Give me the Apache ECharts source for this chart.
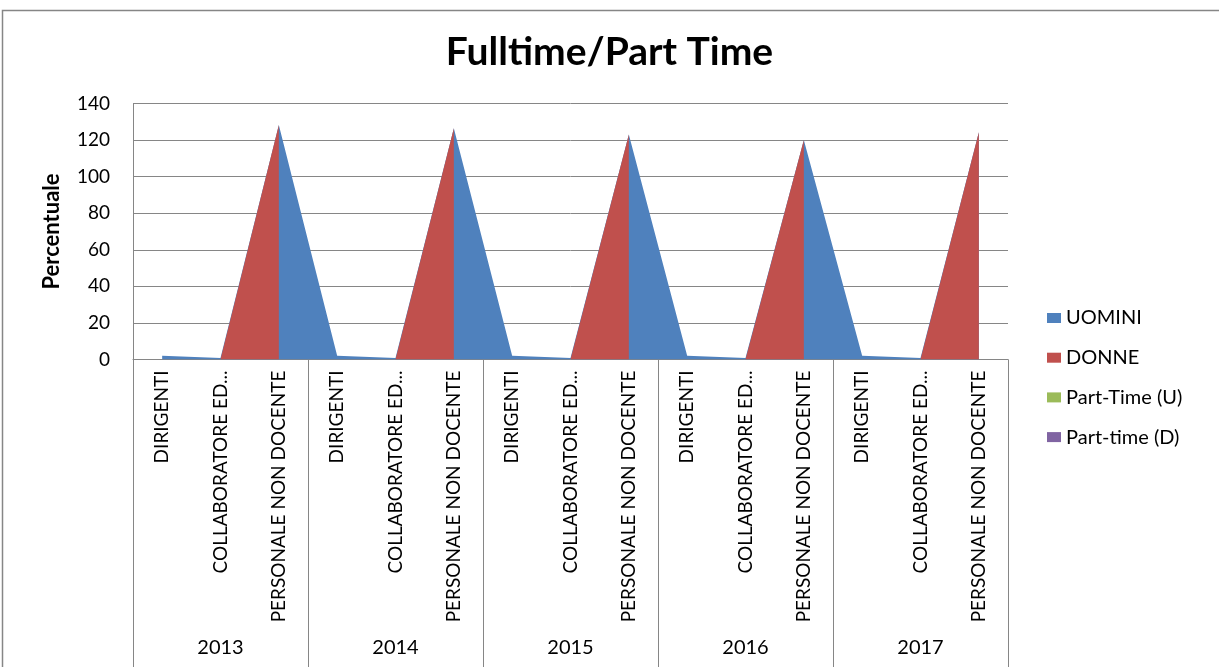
<!DOCTYPE html>
<html>
<head>
<meta charset="utf-8">
<script src="https://cdn.jsdelivr.net/npm/echarts@6/dist/echarts.min.js"></script>
<style>
html,body{margin:0;padding:0;background:#fff;}
#chart{width:1219px;height:667px;}
</style>
</head>
<body>
<div id="chart"></div>
<script>
// ---- data ----
var years = ['2013', '2014', '2015', '2016', '2017'];
var roles = ['DIRIGENTI', 'COLLABORATORE ED...', 'PERSONALE NON DOCENTE'];
var categories = [
  'DIRIGENTI', 'COLLABORATORE ED...', 'PERSONALE NON DOCENTE',
  'DIRIGENTI', 'COLLABORATORE ED...', 'PERSONALE NON DOCENTE',
  'DIRIGENTI', 'COLLABORATORE ED...', 'PERSONALE NON DOCENTE',
  'DIRIGENTI', 'COLLABORATORE ED...', 'PERSONALE NON DOCENTE',
  'DIRIGENTI', 'COLLABORATORE ED...', 'PERSONALE NON DOCENTE'
];
var uomini = [2, 0.8, 128.3, 2, 0.8, 126.5, 2, 0.8, 123, 2, 0.8, 120.1, 2, 0.8, 124.3];
var donne = [null, 0, 128.3, null, 0, 126.5, null, 0, 123, null, 0, 120.1, null, 0, 124.3];
var partTimeU = [0, 0, 0, 0, 0, 0, 0, 0, 0, 0, 0, 0, 0, 0, 0];
var partTimeD = [0, 0, 0, 0, 0, 0, 0, 0, 0, 0, 0, 0, 0, 0, 0];
var yTicks = [0, 20, 40, 60, 80, 100, 120, 140];

var FONT = 'Lato';
var GRAY = '#868686';

function areaSeries(name, data, color) {
  return {
    name: name,
    type: 'line',
    data: data,
    xAxisIndex: 0,
    yAxisIndex: 0,
    showSymbol: false,
    symbol: 'none',
    connectNulls: false,
    lineStyle: { width: 0, color: color },
    itemStyle: { color: color },
    areaStyle: { color: color, opacity: 1 },
    emphasis: { disabled: true }
  };
}

var chart = echarts.init(document.getElementById('chart'), null, { renderer: 'canvas' });
chart.setOption({
  animation: false,
  backgroundColor: '#ffffff',
  textStyle: { fontFamily: FONT },
  graphic: [{
    type: 'rect',
    shape: { x: 2.5, y: 10.5, width: 1400, height: 900 },
    style: { fill: 'none', stroke: GRAY, lineWidth: 1.5 },
    silent: true
  }],
  title: {
    text: 'Fulltime/Part Time',
    left: 'center',
    top: 28,
    textStyle: { fontFamily: FONT, fontWeight: 'bold', fontSize: 39, color: '#000' }
  },
  legend: {
    orient: 'vertical',
    left: 1047,
    top: 307,
    padding: 0,
    itemWidth: 14,
    itemHeight: 10,
    itemGap: 17.7,
    icon: 'rect',
    textStyle: { fontFamily: FONT, fontSize: 20, color: '#000', lineHeight: 22 },
    data: ['UOMINI', 'DONNE', 'Part-Time (U)', 'Part-time (D)']
  },
  grid: { left: 133, right: 211, top: 103.5, bottom: 307.5, containLabel: false },
  xAxis: [{
    type: 'category',
    data: categories,
    boundaryGap: true,
    position: 'bottom',
    axisLine: { show: true, lineStyle: { color: GRAY, width: 1 } },
    axisTick: { show: false },
    axisLabel: {
      interval: 0,
      rotate: 90,
      margin: 11,
      fontFamily: FONT,
      fontSize: 19,
      color: '#000'
    },
    splitLine: { show: false }
  }, {
    type: 'category',
    data: years,
    boundaryGap: true,
    position: 'bottom',
    offset: 0,
    axisLine: { show: false },
    axisTick: { show: true, length: 310, lineStyle: { color: GRAY, width: 1 } },
    axisLabel: {
      interval: 0,
      margin: 278,
      fontFamily: FONT,
      fontSize: 20,
      color: '#000'
    },
    splitLine: { show: false }
  }],
  yAxis: {
    type: 'value',
    min: yTicks[0],
    max: yTicks[yTicks.length - 1],
    interval: 20,
    name: 'Percentuale',
    nameLocation: 'middle',
    nameGap: 70,
    nameRotate: 90,
    nameTextStyle: { fontFamily: FONT, fontWeight: 'bold', fontSize: 22, color: '#000' },
    axisLine: { show: true, lineStyle: { color: GRAY, width: 1 } },
    axisTick: { show: false },
    axisLabel: { margin: 23, fontFamily: FONT, fontSize: 19, color: '#000' },
    splitLine: { show: true, lineStyle: { color: GRAY, width: 1 } }
  },
  series: [
    areaSeries('UOMINI', uomini, '#4F81BD'),
    areaSeries('DONNE', donne, '#C0504D'),
    areaSeries('Part-Time (U)', partTimeU, '#9BBB59'),
    areaSeries('Part-time (D)', partTimeD, '#8064A2')
  ]
});
</script>
</body>
</html>
